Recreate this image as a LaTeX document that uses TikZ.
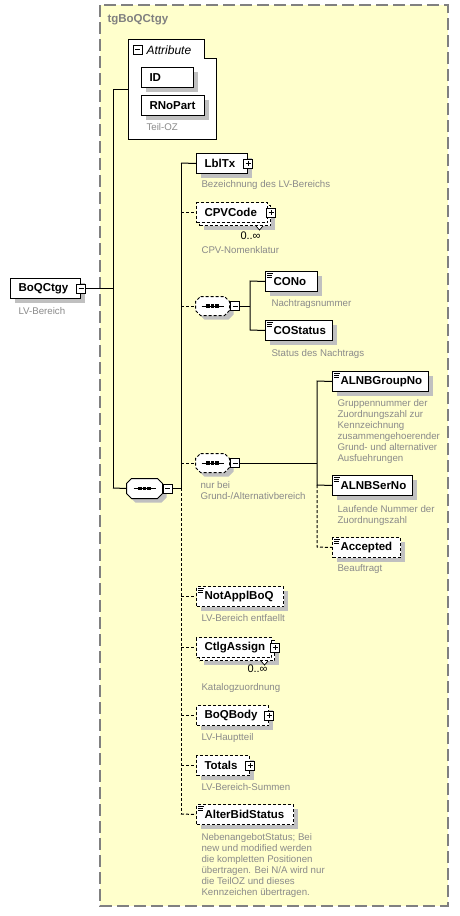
\documentclass[tikz,border=0pt]{standalone}
\usepackage{fontspec}
\setmainfont{Liberation Sans}
\usetikzlibrary{shadows}
\definecolor{grpfill}{HTML}{FFFFCC}
\definecolor{grpline}{HTML}{808080}
\definecolor{shd}{HTML}{C0C0C0}
\definecolor{dgray}{HTML}{8A8A8A}
\newcommand\sicon[1]{\draw[line width=0.7pt] ([xshift=2pt,yshift=-2pt]#1.north west) -- ++(6,0) ([xshift=2pt,yshift=-4pt]#1.north west) -- ++(5,0) ([xshift=2pt,yshift=-6pt]#1.north west) -- ++(5,0);}
\newcommand\seqshape[2][]{%
  \draw[fill=white, general shadow={fill=shd, shadow xshift=4pt, shadow yshift=-4pt}, #1]
    ([xshift=5pt]#2.north west) -- ([xshift=-5pt]#2.north east) -- ([yshift=-5pt]#2.north east)
    -- ([yshift=5pt]#2.south east) -- ([xshift=-5pt]#2.south east) -- ([xshift=5pt]#2.south west)
    -- ([yshift=5pt]#2.south west) -- ([yshift=-5pt]#2.north west) -- cycle;
  \draw[solid,line width=1pt] ([xshift=-11pt]#2.center) -- ([xshift=11pt]#2.center);
  \foreach \dx in {-4.5,0,4.5} {\fill ([xshift=\dx pt]#2.center) +(-1.6,-1.6) rectangle +(1.6,1.6);}}
\begin{document}
\begin{tikzpicture}[x=1pt,y=-1pt,line width=1pt,
  shdw/.style={general shadow={fill=shd, shadow xshift=4pt, shadow yshift=-4pt}},
  ebox/.style={draw, fill=white, shdw, font=\bfseries\fontsize{11.5}{13}\selectfont,
     inner xsep=8pt, inner ysep=0pt, minimum height=20pt, anchor=north west, align=left},
  obox/.style={ebox, dash pattern=on 3pt off 2pt},
  bbox/.style={draw, fill=white, font=\bfseries\fontsize{11.5}{13}\selectfont,
     inner xsep=8pt, inner ysep=0pt, minimum height=20pt, anchor=north west, align=left, dash pattern=on 3pt off 2pt},
  dsh/.style={dash pattern=on 3pt off 2pt},
  desc/.style={anchor=north west, inner sep=0pt, align=left, text=dgray, font=\fontsize{9.7}{11}\selectfont},
  occ/.style={anchor=north west, inner sep=0pt, font=\fontsize{11}{13}\selectfont},
  pmbox/.style={draw, fill=white, line width=0.8pt, minimum size=9pt, inner sep=0pt},
  pmminus/.style={pmbox, path picture={\draw[line width=0.8pt] ([xshift=2pt]path picture bounding box.west) -- ([xshift=-2pt]path picture bounding box.east);}},
  pmplus/.style={pmbox, path picture={\draw[line width=0.8pt] ([xshift=2pt]path picture bounding box.west) -- ([xshift=-2pt]path picture bounding box.east) ([yshift=-2pt]path picture bounding box.north) -- ([yshift=2pt]path picture bounding box.south);}},
  seqbox/.style={rectangle, draw=none, inner sep=0pt, minimum height=18pt, minimum width=33pt}
]
\useasboundingbox (0,0) rectangle (459,916);
\fill[white] (0,0) rectangle (459,916);
% group
\draw[grpline, fill=grpfill, line width=1.5pt, dash pattern=on 12pt off 5pt] (100,5) rectangle (448,906);
\node[anchor=west, inner sep=0pt, text=grpline, font=\bfseries\fontsize{11.5}{13}\selectfont] (title) at (107,20) {tgBoQCtgy};

% root element
\node[ebox, text width=54pt] (boq) at (10,278) {BoQCtgy};
\node[pmminus] (boqm) at (boq.east) {};
\node[desc] (boqd) at (18,307) {LV-Bereich};

% attribute box
\draw[fill=white] (128,39) -- (204,39) -- (204,58) -- (216,58) -- (216,139) -- (128,139) -- cycle;
\coordinate (attrw) at (128,89);
\node[pmminus] (attrm) at (137.5,49.5) {};
\node[anchor=west, inner sep=0pt, font=\itshape\fontsize{12}{14}\selectfont] (attrt) at (146,50) {Attribute};
\node[ebox, text width=36pt] (id) at (141,67) {ID};
\node[ebox, text width=47pt] (rnopart) at (141,95) {RNoPart};
\node[desc] (rnod) at (146,123) {Teil-OZ};

% trunk 1
\coordinate (t1top) at (113,89);
\coordinate (t1bot) at (113,488);
\draw (attrw) -- (t1top) -- (t1bot);
\draw (boqm.east) -- (boqm.east -| t1top);

% main sequence
\node[seqbox, minimum width=35pt, minimum height=19pt] (mseq) at (144.5,488.5) {};
\seqshape{mseq}
\draw (t1bot) -- (mseq.west);
\node[pmminus] (mseqm) at ([xshift=5pt]mseq.east) {};

% trunk 2
\coordinate (t2top) at (181,163);
\coordinate (t2mid) at (181,488);
\coordinate (t2bot) at (181,814);
\draw (mseqm.east) -- (mseqm.east -| t2top);
\draw (t2top) -- (t2mid);
\draw[dsh] (t2mid) -- (t2bot);

% LblTx
\node[ebox, text width=35pt] (lbltx) at (196,153) {LblTx};
\node[pmplus] (lbltxp) at (lbltx.east) {};
\draw (t2top) -- (lbltx.west);
\node[desc] (lbltxd) at (201,180) {Bezeichnung des LV-Bereichs};

% CPVCode
\node[obox, text width=55pt] (cpvback) at (199,205) {\phantom{CPVCode}};
\node[bbox, text width=55pt] (cpv) at (196,202) {CPVCode};
\node[pmplus] (cpvp) at (cpvback.east |- cpv.east) {};
\draw[fill=white, line width=0.7pt] ([xshift=-15pt]cpvback.south east) -- ++(3.5,4) -- ++(3.5,-4);
\draw[dsh] (cpv.west -| t2top) -- (cpv.west);
\node[occ] (cpvo) at (240,231) {0..∞};
\node[desc] (cpvd) at (201,246) {CPV-Nomenklatur};

% sequence 2
\node[seqbox] (s2) at (212.5,306) {};
\seqshape[dsh]{s2}
\draw[dsh] (s2.west -| t2top) -- (s2.west);
\node[pmminus] (s2m) at ([xshift=5.5pt]s2.east) {};
\coordinate (u1) at (250,281);
\coordinate (u2) at (250,330);
\draw (s2m.east) -- (s2m.east -| u1);
\node[ebox, text width=36pt] (cono) at (265,271) {CONo};
\sicon{cono}
\node[ebox, text width=51pt] (costatus) at (265,320) {COStatus};
\sicon{costatus}
\draw (cono.west) -- (u1) -- (u2) -- (costatus.west);
\node[desc] (conod) at (271,299) {Nachtragsnummer};
\node[desc] (costatusd) at (271,349) {Status des Nachtrags};

% sequence 3
\node[seqbox] (s3) at (212.5,463) {};
\seqshape[dsh]{s3}
\draw[dsh] (s3.west -| t2top) -- (s3.west);
\node[pmminus] (s3m) at ([xshift=5.5pt]s3.east) {};
\node[desc] (s3d) at (200,481) {nur bei\\Grund-/Alternativbereich};
\coordinate (v1) at (317,381);
\coordinate (v2) at (317,485);
\coordinate (v3) at (317,547);
\draw (s3m.east) -- (s3m.east -| v1);
\node[ebox, text width=80pt] (alnbg) at (332,371) {ALNBGroupNo};
\sicon{alnbg}
\node[desc] (alnbgd) at (337,399) {Gruppennummer der\\Zuordnungszahl zur\\Kennzeichnung\\zusammengehoerender\\Grund- und alternativer\\Ausfuehrungen};
\node[ebox, text width=64pt] (alnbs) at (332,475) {ALNBSerNo};
\sicon{alnbs}
\node[desc] (alnbsd) at (337,505) {Laufende Nummer der\\Zuordnungszahl};
\node[obox, text width=52pt] (acc) at (332,537) {Accepted};
\sicon{acc}
\node[desc] (accd) at (337,564) {Beauftragt};
\draw (alnbg.west) -- (v1) -- (v2) -- (alnbs.west);
\draw[dsh] (v2) -- (v3) -- (acc.west);

% NotApplBoQ
\node[obox, text width=71pt] (nab) at (196,586) {NotApplBoQ};
\sicon{nab}
\draw[dsh] (nab.west -| t2top) -- (nab.west);
\node[desc] (nabd) at (201,614) {LV-Bereich entfaellt};

% CtlgAssign
\node[obox, text width=59pt] (ctlgback) at (199,640) {\phantom{CtlgAssign}};
\node[bbox, text width=59pt] (ctlg) at (196,637) {CtlgAssign};
\node[pmplus] (ctlgp) at (ctlgback.east |- ctlg.east) {};
\draw[fill=white, line width=0.7pt] ([xshift=-14pt]ctlgback.south east) -- ++(3.5,4) -- ++(3.5,-4);
\draw[dsh] (ctlg.west -| t2top) -- (ctlg.west);
\node[occ] (ctlgo) at (247,664) {0..∞};
\node[desc] (ctlgd) at (201,683) {Katalogzuordnung};

% BoQBody
\node[obox, text width=56pt] (body) at (196,705) {BoQBody};
\node[pmplus] (bodyp) at (body.east) {};
\draw[dsh] (body.west -| t2top) -- (body.west);
\node[desc] (bodyd) at (201,733) {LV-Hauptteil};

% Totals
\node[obox, text width=37pt] (tot) at (196,755) {Totals};
\node[pmplus] (totp) at (tot.east) {};
\draw[dsh] (tot.west -| t2top) -- (tot.west);
\node[desc] (totd) at (201,783) {LV-Bereich-Summen};

% AlterBidStatus
\node[obox, text width=81pt] (alt) at (196,804) {AlterBidStatus};
\sicon{alt}
\draw[dsh] (t2bot) -- (alt.west);
\node[desc] (altd) at (201,833) {NebenangebotStatus; Bei\\new und modified werden\\die kompletten Positionen\\übertragen. Bei N/A wird nur\\die TeilOZ und dieses\\Kennzeichen übertragen.};
\end{tikzpicture}
\end{document}
